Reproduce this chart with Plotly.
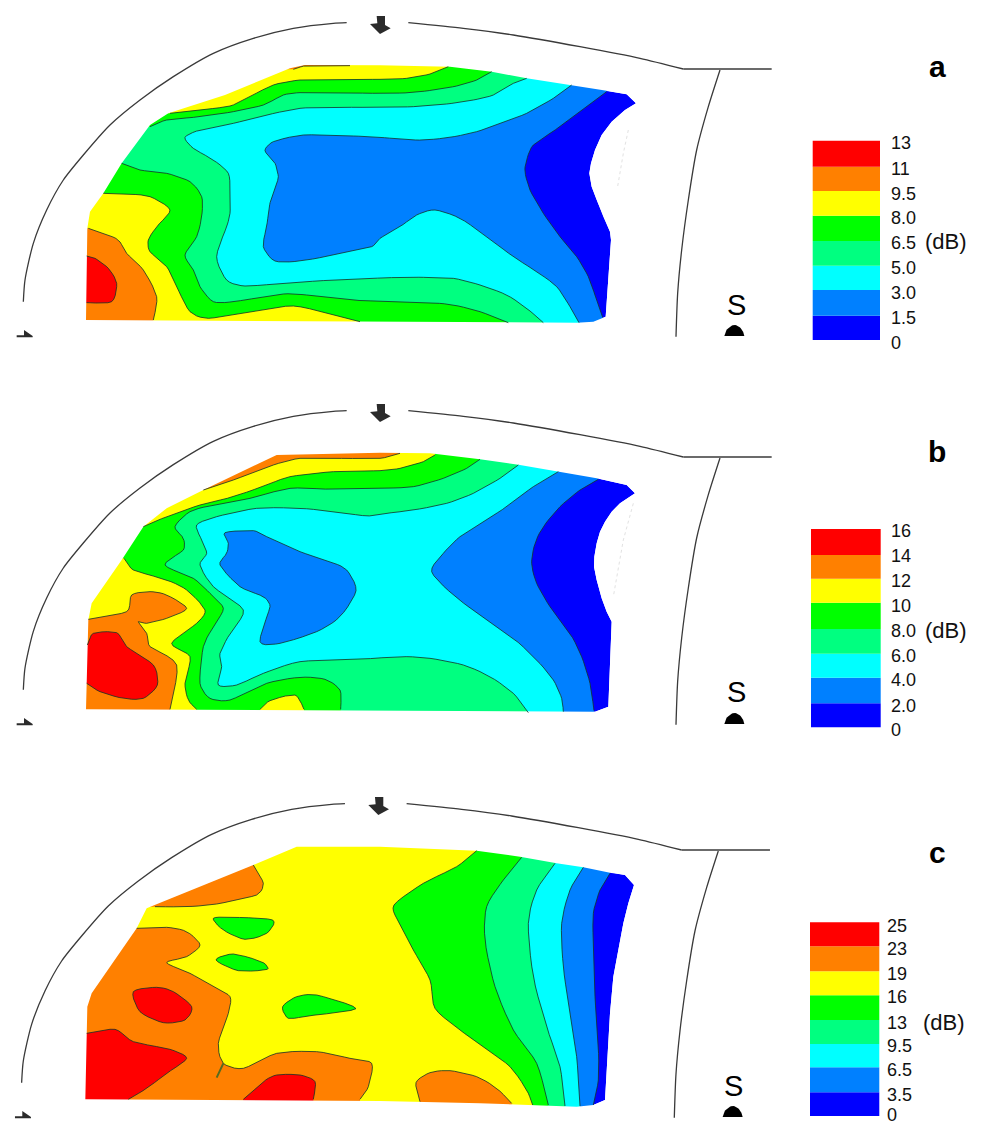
import plotly.graph_objects as go

# ---- crop helpers: traced points are stored in the 3x crop frames they were read from
def L(pts, oy): return [(x / 3, oy + y / 3) for x, y in pts]
def R(pts, oy): return [(380 + x / 3, oy + y / 3) for x, y in pts]

RED, ORANGE, YELLOW, GREEN, SPRING, CYAN, BLUE, DEEP = ("#ff0000", "#ff8000", "#ffff00", "#00ff00",
                                                       "#00ff80", "#00ffff", "#0080ff", "#0000ff")
BAND_COLORS = [DEEP, BLUE, CYAN, SPRING, GREEN, YELLOW, ORANGE, RED]

# ---- legends
A_LABELS = ["0", "1.5", "3.0", "5.0", "6.5", "8.0", "9.5", "11", "13"]
B_LABELS = ["0", "2.0", "4.0", "6.0", "8.0", "10", "12", "14", "16"]
C_LABELS = ["0", "3.5", "6.5", "9.5", "13", "16", "19", "23", "25"]
A_EDGES = [340, 315.7, 290, 265.7, 241, 215.7, 191, 166.7, 140.7]
B_EDGES = [727.3, 703.3, 677.7, 653.7, 629, 602.7, 578.7, 555, 529]
C_EDGES = [1116, 1092.3, 1067.3, 1044, 1020, 995.3, 971.3, 946.3, 922.3]
A_LABEL_Y = [342.7, 317.7, 292, 267.7, 242.7, 217.7, 193, 168, 142.7]
B_LABEL_Y = [729.3, 705, 679.3, 655, 630.7, 605, 580.7, 555.3, 530.7]
C_LABEL_Y = [1114.5, 1094.3, 1069.3, 1045.7, 1022.3, 996.7, 973.3, 948.3, 925]

# ---- panel a
OY = 0
A_OUT = (L([(258, 960), (262, 685), (270, 635), (310, 580), (365, 490), (450, 375), (505, 340), (675, 285),
            (870, 205), (915, 195), (1140, 196)], OY)
         + R([(210, 200), (335, 215), (440, 235), (570, 255), (680, 272), (740, 283), (768, 310), (735, 330),
              (695, 365), (665, 405), (645, 450), (633, 490), (628, 520), (635, 560), (650, 600), (670, 650),
              (690, 695), (693, 720), (677, 950), (640, 965), (590, 968)], OY))
A_DEEP_EDGE = R([(680, 275), (600, 335), (540, 380), (460, 435), (440, 480), (435, 515), (450, 570), (490, 640),
                 (540, 710), (590, 770), (625, 830), (650, 900), (668, 952)], OY)
A_BLUE_EDGE = (R([(575, 255), (520, 295), (440, 340), (360, 370), (290, 395), (210, 412), (130, 420), (70, 418), (0, 412)], OY)
               + L([(1060, 408), (910, 405), (820, 425), (795, 452), (825, 490), (835, 530), (830, 550), (815, 590),
                    (808, 620), (800, 680), (790, 740), (825, 783), (900, 783), (1000, 765), (1115, 740)], OY)
               + R([(0, 715), (60, 680), (110, 645), (165, 630), (240, 655), (320, 710), (400, 770), (470, 815),
                    (530, 860), (570, 920), (597, 968)], OY))
A_CYAN_EDGE = (R([(440, 235), (400, 250), (340, 285), (280, 300), (200, 312), (100, 320), (0, 322)], OY)
               + L([(1000, 322), (900, 325), (800, 345), (700, 370), (600, 390), (555, 412), (580, 445), (640, 480),
                    (685, 520), (690, 580), (690, 640), (680, 680), (650, 770), (680, 840), (735, 858), (850, 850),
                    (1000, 840)], OY)
               + R([(60, 832), (130, 832), (220, 835), (300, 855), (380, 885), (440, 925), (490, 968)], OY))
A_SPRING_TOP = (R([(335, 215), (290, 240), (230, 258), (160, 270), (90, 278), (0, 280)], OY)
                + L([(1000, 278), (900, 278), (850, 285), (790, 315), (700, 335), (600, 350), (500, 360), (450, 380)], OY))
A_SPRING_LOW = (L([(365, 490), (420, 510), (500, 520), (570, 545), (605, 590), (605, 650), (590, 710), (555, 765),
                   (580, 810), (600, 860), (640, 905), (700, 905), (850, 882), (920, 885), (1050, 900)], OY)
                + R([(60, 905), (150, 908), (220, 915), (300, 935), (385, 968)], OY))
A_GREEN_TOP = (R([(205, 200), (150, 222), (80, 235), (0, 238)], OY)
               + L([(1000, 238), (900, 240), (820, 255), (740, 295), (690, 318), (600, 330), (510, 340)], OY))
A_GREEN_LOW = L([(310, 580), (380, 582), (450, 590), (510, 630), (470, 680), (445, 720), (450, 755), (500, 800),
                 (530, 860), (570, 935), (625, 955), (750, 935), (880, 918), (1000, 945), (1080, 965)], OY)
A_YELLOW_TOP = L([(1050, 197), (920, 197), (880, 208)], OY)
A_YELLOW_LOW = L([(265, 685), (310, 700), (355, 720), (380, 760), (430, 810), (470, 890), (460, 960)], OY)
A_RED = L([(260, 768), (285, 775), (325, 805), (350, 850), (335, 905), (260, 908)], OY)

# ---- panel b
OY = 390
B_OUT = (L([(258, 958), (265, 690), (275, 640), (365, 510), (430, 410), (500, 355), (610, 300), (830, 195), (1140, 188)], OY)
         + R([(150, 190), (300, 208), (420, 225), (540, 245), (650, 265), (740, 285), (765, 310), (720, 340),
              (695, 365), (675, 395), (660, 425), (650, 460), (643, 500), (642, 530), (650, 570), (665, 625),
              (680, 665), (695, 695), (685, 950), (645, 965)], OY))
B_DEEP_EDGE = R([(655, 268), (600, 300), (540, 350), (490, 410), (465, 460), (455, 520), (470, 580), (510, 650),
                 (570, 730), (605, 800), (630, 880), (642, 962)], OY)
B_BLUE_EDGE = R([(535, 245), (460, 290), (380, 350), (310, 395), (240, 440), (190, 490), (155, 545), (220, 615),
                 (300, 675), (400, 745), (470, 810), (520, 870), (545, 925), (550, 965)], OY)
B_ISLAND = L([(675, 428), (760, 422), (800, 440), (900, 485), (990, 515), (1040, 540), (1068, 602), (1020, 680),
              (950, 725), (840, 760), (780, 755), (810, 650), (790, 620), (720, 590), (660, 525), (680, 490),
              (685, 460)], OY)
B_CYAN_EDGE = (R([(415, 225), (360, 265), (280, 310), (200, 340), (100, 360), (0, 372)], OY)
               + L([(1100, 378), (1000, 365), (900, 355), (770, 355), (650, 380), (590, 405), (605, 450), (620, 490),
                    (600, 525), (640, 590), (730, 660), (690, 730), (660, 790), (665, 830), (655, 885), (710, 885),
                    (790, 850), (900, 815), (1050, 810)], OY)
               + R([(60, 800), (150, 805), (250, 825), (330, 860), (400, 910), (445, 968)], OY))
B_SPRING_EDGE = (R([(300, 208), (260, 235), (190, 265), (100, 290), (0, 295)], OY)
                 + L([(1000, 298), (870, 295), (750, 325), (640, 345), (570, 365), (525, 410), (550, 445), (550, 480),
                      (495, 525), (580, 565), (630, 610), (670, 655), (640, 710), (610, 770), (600, 880), (630, 925),
                      (690, 930), (800, 880), (900, 862), (975, 868), (1020, 900), (1022, 958)], OY))
B_GREEN_TOP = (R([(165, 195), (130, 215), (60, 235), (0, 242)], OY)
               + L([(1000, 245), (870, 260), (800, 285), (700, 320), (600, 345), (500, 380), (430, 410)], OY))
B_GREEN_LOW = L([(372, 505), (400, 540), (500, 570), (560, 600), (615, 660), (590, 700), (515, 760), (570, 800),
                 (555, 880), (565, 930), (590, 958)], OY)
B_GREEN_FOOT = L([(780, 958), (810, 932), (885, 915), (912, 958)], OY)
B_YELLOW_TOP = (R([(60, 190), (0, 205)], OY) + L([(1000, 205), (900, 205), (820, 225), (700, 270), (610, 300)], OY))
B_YELLOW_LOW = L([(265, 688), (380, 665), (395, 615), (450, 605), (500, 615), (560, 655), (500, 685), (440, 700),
                  (415, 695), (440, 730), (450, 770), (530, 825), (510, 958)], OY)
B_RED = L([(262, 765), (280, 730), (350, 728), (380, 770), (460, 825), (472, 885), (430, 925), (370, 925),
           (300, 905), (260, 880)], OY)

# ---- panel c
OY = 780
C_OUT = (L([(256, 958), (262, 680), (275, 640), (410, 445), (440, 385), (760, 255), (890, 200), (1140, 200)], OY)
         + R([(290, 212), (420, 230), (530, 250), (610, 262), (690, 278), (735, 285), (762, 315), (745, 370),
              (730, 430), (715, 510), (700, 590), (690, 700), (675, 960), (640, 975), (590, 980), (300, 970), (0, 963)], OY))
C_DEEP_EDGE = R([(690, 280), (660, 330), (640, 400), (640, 500), (645, 650), (655, 800), (655, 900), (640, 975)], OY)
C_BLUE_EDGE = R([(610, 262), (570, 330), (545, 430), (550, 560), (570, 700), (590, 830), (600, 978)], OY)
C_CYAN_EDGE = R([(525, 250), (470, 330), (445, 430), (460, 590), (500, 740), (540, 860), (555, 978)], OY)
C_SPRING_EDGE = R([(425, 232), (370, 300), (320, 380), (315, 480), (345, 620), (400, 750), (470, 850), (505, 975)], OY)
C_GREEN_EDGE = R([(290, 212), (230, 260), (130, 310), (42, 375), (55, 425), (100, 510), (150, 600), (165, 685),
                  (240, 750), (310, 800), (390, 860), (440, 930), (458, 975)], OY)
C_ISLAND_1 = L([(640, 415), (700, 412), (818, 420), (800, 460), (735, 478), (670, 450)], OY)
C_ISLAND_2 = L([(648, 540), (700, 522), (785, 545), (802, 568), (715, 572)], OY)
C_ISLAND_3 = L([(848, 680), (890, 650), (950, 645), (1068, 686), (920, 708), (865, 715)], OY)
C_ORANGE_TOP = L([(760, 255), (790, 310), (770, 345), (650, 372), (560, 380), (465, 380)], OY)
C_ORANGE_LOW = L([(410, 445), (500, 442), (560, 455), (600, 495), (560, 530), (500, 548), (570, 580), (640, 620),
                  (690, 650), (685, 700), (655, 790), (670, 850), (730, 865), (830, 820), (950, 815), (1050, 835),
                  (1115, 850), (1105, 920), (1080, 958)], OY)
C_ORANGE_RIGHT = R([(120, 965), (108, 908), (150, 878), (210, 872), (290, 890), (350, 925), (395, 970)], OY)
C_RED_1 = L([(400, 635), (470, 622), (520, 635), (575, 680), (555, 720), (490, 728), (420, 695)], OY)
C_RED_2 = L([(260, 760), (345, 748), (400, 785), (510, 808), (560, 835), (500, 880), (440, 925), (385, 958)], OY)
C_RED_3 = L([(730, 958), (790, 905), (830, 885), (900, 885), (945, 905), (940, 958)], OY)
C_CRACK = L([(670, 850), (650, 893)], OY)

# ---- frame drawn around every panel (shifted per panel)
ARC_LEFT = L([(70, 905), (75, 840), (100, 730), (140, 630), (190, 540), (250, 465), (330, 375), (420, 300),
              (520, 230), (640, 160), (760, 115), (880, 85), (1000, 70), (1040, 68)], 0)
ARC_TOP = R([(85, 68), (250, 85), (400, 105), (600, 140), (780, 175), (910, 207)], 0)
ARC_END = R([(910, 207), (1175, 207)], 0)
ARC_RIGHT = R([(1020, 210), (985, 320), (950, 450), (925, 600), (905, 750), (893, 880), (888, 1010)], 0)
ARROW_TOP = L([(1130, 48), (1155, 48), (1155, 75), (1172, 85), (1140, 102), (1110, 72), (1132, 70)], 0)
ARROW_SIDE = L([(50, 1006), (72, 1006), (72, 990), (98, 1008), (98, 1012), (50, 1012)], 0)
SOURCE_DOT = R([(1033, 1008), (1038, 992), (1050, 980), (1063, 975), (1077, 980), (1088, 992), (1093, 1008)], 0)

fig = go.Figure()
LINE = "rgba(20,50,40,0.8)"
SPLINE = dict(shape="spline", smoothing=0.7)


def rounded(pts, closed=False, steps=5, tension=0.4):
    """Round the traced polyline for drawing; it still passes through every traced point."""
    n = len(pts)
    tang = []
    for i in range(n):
        a = pts[(i - 1) % n] if closed or i > 0 else pts[i]
        b = pts[(i + 1) % n] if closed or i < n - 1 else pts[i]
        p = pts[i]
        mx, my = tension * (b[0] - a[0]), tension * (b[1] - a[1])
        d1 = ((p[0] - a[0]) ** 2 + (p[1] - a[1]) ** 2) ** 0.5
        d2 = ((p[0] - b[0]) ** 2 + (p[1] - b[1]) ** 2) ** 0.5
        nonzero = [d for d in (d1, d2) if d > 0]
        limit = min(nonzero) if nonzero else 0
        m = (mx * mx + my * my) ** 0.5
        if m > limit > 0:
            mx, my = mx * limit / m, my * limit / m
        tang.append((mx, my))
    out = []
    for i in range(n if closed else n - 1):
        p0, p1 = pts[i], pts[(i + 1) % n]
        m0, m1 = tang[i], tang[(i + 1) % n]
        for s in range(steps):
            t = s / steps
            h00, h10, h01, h11 = 2*t**3 - 3*t**2 + 1, t**3 - 2*t**2 + t, -2*t**3 + 3*t**2, t**3 - t**2
            out.append((h00*p0[0] + h10*m0[0] + h01*p1[0] + h11*m1[0],
                        h00*p0[1] + h10*m0[1] + h01*p1[1] + h11*m1[1]))
    out.append(pts[0] if closed else pts[-1])
    return out


def poly(pts, color):
    fig.add_trace(go.Scatter(x=[p[0] for p in pts], y=[p[1] for p in pts], mode="lines", fill="toself",
                             fillcolor=color, line=dict(width=0), hoverinfo="skip"))


def stroke(pts, color=LINE, width=1.0, dash=None, curved=False):
    line = dict(color=color, width=width, dash=dash)
    if curved:
        line.update(SPLINE)
    fig.add_trace(go.Scatter(x=[p[0] for p in pts], y=[p[1] for p in pts], mode="lines",
                             line=line, hoverinfo="skip"))


def panel(outline, regions, yt, yb, shift, labels, edges, label_y, label_x, dby, letter, letter_y, bar_x, s_pos, faint=None):
    xl = 20
    poly(outline + [outline[0]], DEEP)
    lines = []
    for raw, color, kind in regions:
        pts = rounded(raw, closed=(kind == "closed"))
        f, l = pts[0], pts[-1]
        if kind == "wrap":
            extra = [(l[0], yb), (xl, yb), (xl, yt), (f[0], yt)]
        elif kind == "top":
            extra = [(xl, l[1]), (xl, yt), (f[0], yt)]
        elif kind == "bottom":
            extra = [(l[0], yb), (xl, yb), (xl, f[1])]
        elif kind == "floor":
            extra = [(l[0], yb), (f[0], yb)]
        elif kind == "left":
            extra = [(xl, l[1]), (xl, f[1])]
        else:
            extra = []
        poly(pts + extra + [f], color)
        lines.append(pts)
    # white surround with a keyhole leaves only the measured area visible
    x0, x1 = 0, 790
    y0, y1 = yt - 12, min(yb + 12, 1123)
    o = outline[::-1]
    poly([(x0, y0), (x1, y0), (x1, y1), (x0, y1), (x0, o[0][1])] + o + [o[0], (x0, o[0][1]), (x0, y0)], "#ffffff")
    for ln in lines:
        stroke(ln)
    dx, dy = shift
    mv = lambda pts: [(x + dx, y + dy) for x, y in pts]
    for arc in (ARC_LEFT, ARC_TOP, ARC_RIGHT):
        stroke(mv(arc), "#3a3a3a", 1.3, curved=True)
    stroke(mv(ARC_END), "#3a3a3a", 1.3)
    poly(mv(ARROW_TOP) + [mv(ARROW_TOP)[0]], "#2b2b2b")
    poly(mv(ARROW_SIDE) + [mv(ARROW_SIDE)[0]], "#2b2b2b")
    dot = rounded(mv(SOURCE_DOT))
    poly(dot + [dot[0]], "#000000")
    if faint:
        stroke(faint, "#e2e2e2", 1, "dot")
    # legend
    fig.add_trace(go.Bar(x=[bar_x[0]] * 8, y=[edges[i + 1] - edges[i] for i in range(8)], base=edges[:8],
                         width=bar_x[1], marker=dict(color=BAND_COLORS, line=dict(width=0)), hoverinfo="skip",
                         offset=0))
    for t, y in zip(labels, label_y):
        fig.add_annotation(x=label_x, y=y, text=t, showarrow=False, xanchor="left", yanchor="middle", height=15,
                           borderpad=0, font=dict(family="Liberation Sans", size=18, color="#111"))
    fig.add_annotation(x=dby[0], y=dby[1], text="(dB)", showarrow=False, xanchor="left", yanchor="middle",
                       font=dict(family="Liberation Sans", size=22, color="#111"))
    fig.add_annotation(x=937, y=letter_y, text=letter, showarrow=False, xanchor="center", yanchor="middle",
                       font=dict(family="Liberation Sans", size=30, color="#000", weight="bold"))
    fig.add_annotation(x=s_pos[0], y=s_pos[1], text="S", showarrow=False, xanchor="center", yanchor="middle",
                       font=dict(family="Liberation Sans", size=29, color="#000"))


panel(A_OUT,
      [(A_DEEP_EDGE, BLUE, "wrap"), (A_BLUE_EDGE, CYAN, "wrap"), (A_CYAN_EDGE, SPRING, "wrap"),
       (A_SPRING_TOP, GREEN, "top"), (A_SPRING_LOW, GREEN, "bottom"), (A_GREEN_TOP, YELLOW, "top"),
       (A_GREEN_LOW, YELLOW, "bottom"), (A_YELLOW_TOP, ORANGE, "top"), (A_YELLOW_LOW, ORANGE, "bottom"),
       (A_RED, RED, "left")],
      40, 350, (0, 0), A_LABELS, A_EDGES, A_LABEL_Y, 890, (923, 241.7), "a", 66, (812.7, 67.3), (736, 305),
      faint=R([(745, 390), (730, 460), (712, 565)], 0))
panel(B_OUT,
      [(B_DEEP_EDGE, BLUE, "wrap"), (B_BLUE_EDGE, CYAN, "wrap"), (B_ISLAND, BLUE, "closed"),
       (B_CYAN_EDGE, SPRING, "wrap"), (B_SPRING_EDGE, GREEN, "wrap"), (B_GREEN_TOP, YELLOW, "top"),
       (B_GREEN_LOW, YELLOW, "bottom"), (B_GREEN_FOOT, YELLOW, "floor"), (B_YELLOW_TOP, ORANGE, "top"),
       (B_YELLOW_LOW, ORANGE, "bottom"), (B_RED, RED, "left")],
      430, 742, (0, 388), B_LABELS, B_EDGES, B_LABEL_Y, 890, (923, 630.7), "b", 451, (811, 69.7), (736, 692),
      faint=R([(760, 340), (730, 450), (700, 620)], 390))
panel(C_OUT,
      [(C_DEEP_EDGE, BLUE, "wrap"), (C_BLUE_EDGE, CYAN, "wrap"), (C_CYAN_EDGE, SPRING, "wrap"),
       (C_SPRING_EDGE, GREEN, "wrap"), (C_GREEN_EDGE, YELLOW, "wrap"), (C_ISLAND_1, GREEN, "closed"),
       (C_ISLAND_2, GREEN, "closed"), (C_ISLAND_3, GREEN, "closed"), (C_ORANGE_TOP, ORANGE, "top"),
       (C_ORANGE_LOW, ORANGE, "bottom"), (C_ORANGE_RIGHT, ORANGE, "floor"), (C_RED_1, RED, "closed"),
       (C_RED_2, RED, "bottom"), (C_RED_3, RED, "floor")],
      825, 1115, (-1.7, 781), C_LABELS, C_EDGES, C_LABEL_Y, 886, (921, 1022.7), "c", 852, (810, 69.3), (733.5, 1086))
stroke(C_CRACK, "#556b20", 2)

fig.update_layout(width=981, height=1123, margin=dict(l=0, r=0, t=0, b=0), showlegend=False,
                  paper_bgcolor="white", plot_bgcolor="white", barmode="overlay",
                  xaxis=dict(range=[0, 981], visible=False, fixedrange=True),
                  yaxis=dict(range=[1123, 0], visible=False, fixedrange=True))
fig.write_html("out.html", config=dict(displayModeBar=False),
               post_script="document.body.style.margin='0';document.body.style.overflow='hidden';")
